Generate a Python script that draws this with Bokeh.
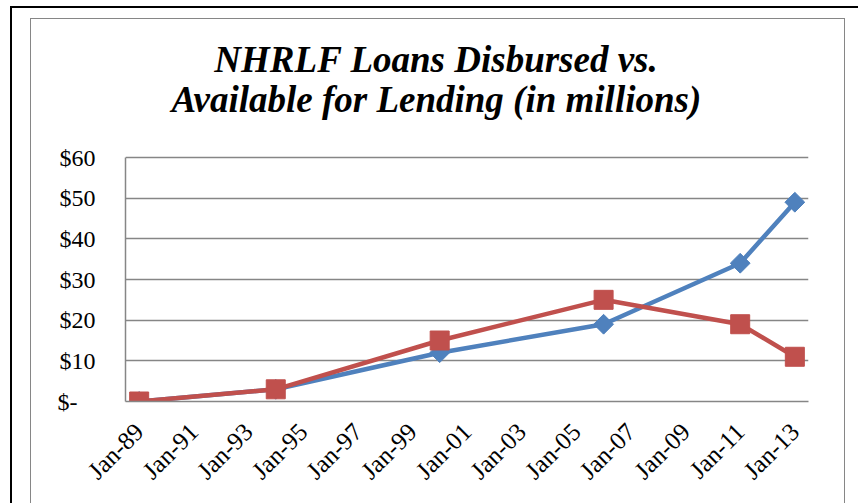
import math
from bokeh.plotting import figure
from bokeh.models import Range1d, FixedTicker, Label, InlineStyleSheet
from bokeh.embed import file_html
from bokeh.resources import INLINE

# ---- data ----
years = [1989, 1994, 2000, 2006, 2011, 2013]
disbursed = [0, 3, 12, 19, 34, 49]          # blue, diamonds
available = [0, 3, 15, 25, 19, 11]          # red, squares
x_ticks = [1989, 1991, 1993, 1995, 1997, 1999, 2001, 2003, 2005, 2007, 2009, 2011, 2013]
x_tick_labels = ["Jan-89", "Jan-91", "Jan-93", "Jan-95", "Jan-97", "Jan-99", "Jan-01",
                 "Jan-03", "Jan-05", "Jan-07", "Jan-09", "Jan-11", "Jan-13"]
y_ticks = [0, 10, 20, 30, 40, 50, 60]
y_tick_labels = ["$-\u00a0\u00a0\u00a0", "$10", "$20", "$30", "$40", "$50", "$60"]
title_line1 = "NHRLF Loans Disbursed vs."
title_line2 = "Available for Lending (in millions)"

BLUE = "#4F81BD"
RED = "#C0504D"
GRID = "#868686"
FONT = "Liberation Serif"

css = """
:host { position: relative; }
:host::before { content: ""; position: absolute; left: 10px; top: 6px; width: 900px; height: 600px;
  border-top: 2.5px solid black; border-left: 2.5px solid black; z-index: 100; pointer-events: none; }
:host::after { content: ""; position: absolute; left: 30px; top: 18px; width: 813px; height: 600px;
  border: 1.5px solid #868686; z-index: 100; pointer-events: none; }
"""

# plot frame extends up to hold the title; the value axis itself is bounded to 0..60
TOP_PX, ZERO_PX, SIXTY_PX = 22, 401, 157
y_top = 60 * (ZERO_PX - TOP_PX) / (ZERO_PX - SIXTY_PX)

p = figure(width=858, height=503, output_backend="svg", toolbar_location=None,
           x_range=Range1d(1988.5, 2013.5), y_range=Range1d(0, y_top),
           stylesheets=[InlineStyleSheet(css=css)])
p.min_border_left = 125
p.min_border_right = 50
p.min_border_top = TOP_PX
p.min_border_bottom = 503 - ZERO_PX
p.outline_line_color = None
p.background_fill_color = "white"
p.border_fill_color = "white"

# two-line title
p.add_layout(Label(x=1999.88, y=84.0, text=title_line1, text_align="center",
                   text_baseline="alphabetic", text_font=FONT, text_font_size="37px",
                   text_font_style="bold italic", text_color="black"))
p.add_layout(Label(x=1999.88, y=74.2, text=title_line2, text_align="center",
                   text_baseline="alphabetic", text_font=FONT, text_font_size="37px",
                   text_font_style="bold italic", text_color="black"))

# axes
p.xaxis.ticker = FixedTicker(ticks=x_ticks)
p.xaxis.major_label_overrides = dict(zip(x_ticks, x_tick_labels))
p.xaxis.major_label_orientation = math.pi / 4
p.yaxis.ticker = FixedTicker(ticks=y_ticks)
p.yaxis.major_label_overrides = dict(zip(y_ticks, y_tick_labels))
p.yaxis.bounds = (0, 60)
for ax in (p.xaxis, p.yaxis):
    ax.axis_line_color = GRID
    ax.axis_line_width = 1.5
    ax.major_tick_line_color = None
    ax.minor_tick_line_color = None
    ax.major_tick_in = 0
    ax.major_tick_out = 0
    ax.major_label_text_font = FONT
    ax.major_label_text_color = "black"
    ax.major_label_text_font_size = "24px"
p.xaxis.major_label_text_font_size = "25px"
p.xaxis.major_label_standoff = 26
p.yaxis.major_label_standoff = 30

p.xgrid.grid_line_color = None
p.ygrid.grid_line_color = GRID
p.ygrid.grid_line_width = 1.5

# series
p.line(years, disbursed, line_color=BLUE, line_width=4.5)
p.scatter(years, disbursed, marker="square", angle=math.pi / 4, size=14,
          fill_color=BLUE, line_color=BLUE)
p.line(years, available, line_color=RED, line_width=4.5)
p.scatter(years, available, marker="square", size=19,
          fill_color=RED, line_color=RED)

open("out.html", "w").write(file_html(p, INLINE))
